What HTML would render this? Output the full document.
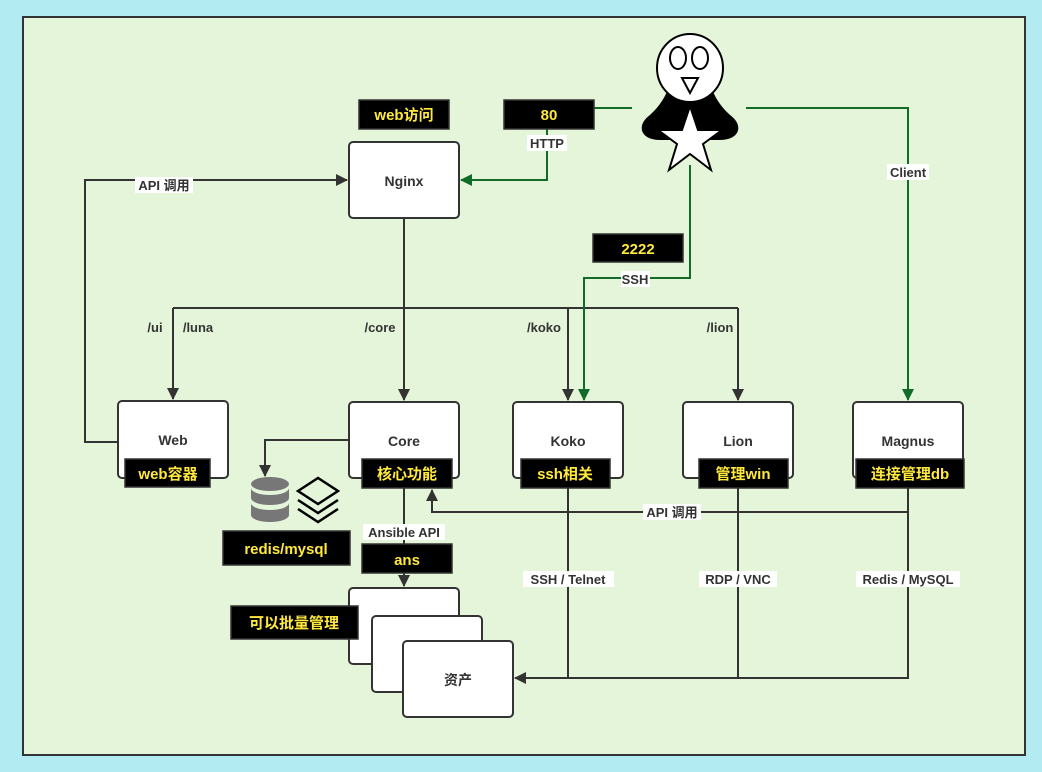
<!DOCTYPE html>
<html><head><meta charset="utf-8"><style>
html,body{margin:0;padding:0;background:#b2ebf2;}
svg{display:block;}
text{font-family:"Liberation Sans","Noto Sans CJK SC",sans-serif;}
.n{fill:#fff;stroke:#333;stroke-width:2;}
.nt{font-size:14px;font-weight:bold;fill:#333;text-anchor:middle;}
.bl{fill:#000;stroke:#333;stroke-width:1.5;}
.yt{font-size:15px;font-weight:bold;fill:#ffe93b;text-anchor:middle;}
.ln{stroke:#333;stroke-width:2;fill:none;}
.gl{stroke:#136b2a;stroke-width:2;fill:none;}
.lb{font-size:13px;font-weight:bold;fill:#333;text-anchor:middle;}
</style></head><body>
<svg width="1042" height="772" viewBox="0 0 1042 772">
<defs>
<marker id="a" markerWidth="12" markerHeight="12" refX="11" refY="6" orient="auto" markerUnits="userSpaceOnUse"><path d="M0,0 L12,6 L0,12 z" fill="#333"/></marker>
<marker id="g" markerWidth="12" markerHeight="12" refX="11" refY="6" orient="auto" markerUnits="userSpaceOnUse"><path d="M0,0 L12,6 L0,12 z" fill="#136b2a"/></marker>
</defs>
<rect x="0" y="0" width="1042" height="772" fill="#b2ebf2"/>
<rect x="23" y="17" width="1002" height="738" fill="#e4f5da" stroke="#333" stroke-width="2"/>

<path class="ln" d="M404,218 V308"/>
<path class="ln" d="M173,308 H738"/>
<path class="ln" d="M173,308 V399" marker-end="url(#a)"/>
<path class="ln" d="M404,308 V400" marker-end="url(#a)"/>
<path class="ln" d="M568,308 V400" marker-end="url(#a)"/>
<path class="ln" d="M738,308 V400" marker-end="url(#a)"/>
<path class="ln" d="M118,442 H85 V180 H347" marker-end="url(#a)"/>
<path class="ln" d="M349,440 H265 V476" marker-end="url(#a)"/>
<path class="ln" d="M404,488 V586" marker-end="url(#a)"/>
<path class="ln" d="M908,488 V512 H432 V490" marker-end="url(#a)"/>
<path class="ln" d="M568,488 V678"/>
<path class="ln" d="M738,488 V678"/>
<path class="ln" d="M908,512 V678 H515" marker-end="url(#a)"/>

<path class="gl" d="M594,108 H632"/>
<path class="gl" d="M746,108 H908 V400" marker-end="url(#g)"/>
<path class="gl" d="M547,129 V180 H461" marker-end="url(#g)"/>
<path class="gl" d="M690,165 V278 H584 V400" marker-end="url(#g)"/>

<rect x="135" y="177" width="58" height="16" fill="#fff"/><text class="lb" x="164" y="190">API 调用</text>
<rect x="527" y="135" width="40" height="16" fill="#fff"/><text class="lb" x="547" y="148">HTTP</text>
<rect x="887" y="164" width="42" height="16" fill="#fff"/><text class="lb" x="908" y="177">Client</text>
<rect x="621" y="271" width="29" height="16" fill="#fff"/><text class="lb" x="635" y="284">SSH</text>
<text class="lb" x="155" y="332">/ui</text>
<text class="lb" x="198" y="332">/luna</text>
<text class="lb" x="380" y="332">/core</text>
<text class="lb" x="544" y="332">/koko</text>
<text class="lb" x="720" y="332">/lion</text>
<rect x="643" y="504" width="58" height="16" fill="#fff"/><text class="lb" x="672" y="517">API 调用</text>
<rect x="363" y="524" width="82" height="16" fill="#fff"/><text class="lb" x="404" y="537">Ansible API</text>
<rect x="523" y="571" width="91" height="16" fill="#fff"/><text class="lb" x="568" y="584">SSH / Telnet</text>
<rect x="699" y="571" width="78" height="16" fill="#fff"/><text class="lb" x="738" y="584">RDP / VNC</text>
<rect x="856" y="571" width="104" height="16" fill="#fff"/><text class="lb" x="908" y="584">Redis / MySQL</text>

<rect class="n" x="349" y="142" width="110" height="76" rx="4"/><text class="nt" x="404" y="186">Nginx</text>
<rect class="n" x="118" y="401" width="110" height="77" rx="4"/><text class="nt" x="173" y="445">Web</text>
<rect class="n" x="349" y="402" width="110" height="76" rx="4"/><text class="nt" x="404" y="446">Core</text>
<rect class="n" x="513" y="402" width="110" height="76" rx="4"/><text class="nt" x="568" y="446">Koko</text>
<rect class="n" x="683" y="402" width="110" height="76" rx="4"/><text class="nt" x="738" y="446">Lion</text>
<rect class="n" x="853" y="402" width="110" height="76" rx="4"/><text class="nt" x="908" y="446">Magnus</text>
<rect class="n" x="349" y="588" width="110" height="76" rx="4"/>
<rect class="n" x="372" y="616" width="110" height="76" rx="4"/>
<rect class="n" x="403" y="641" width="110" height="76" rx="4"/><text class="nt" x="458" y="685">资产</text>

<rect class="bl" x="359" y="100" width="90" height="29"/><text class="yt" x="404" y="120">web访问</text>
<rect class="bl" x="504" y="100" width="90" height="29"/><text class="yt" x="549" y="120">80</text>
<rect class="bl" x="593" y="234" width="90" height="28"/><text class="yt" x="638" y="254">2222</text>
<rect class="bl" x="125" y="459" width="85" height="28"/><text class="yt" x="168" y="479">web容器</text>
<rect class="bl" x="362" y="459" width="90" height="29"/><text class="yt" x="407" y="479">核心功能</text>
<rect class="bl" x="521" y="459" width="89" height="29"/><text class="yt" x="565" y="479">ssh相关</text>
<rect class="bl" x="699" y="459" width="89" height="29"/><text class="yt" x="743" y="479">管理win</text>
<rect class="bl" x="856" y="459" width="108" height="29"/><text class="yt" x="910" y="479">连接管理db</text>
<rect class="bl" x="223" y="531" width="127" height="34"/><text class="yt" x="286" y="554">redis/mysql</text>
<rect class="bl" x="362" y="544" width="90" height="29"/><text class="yt" x="407" y="565">ans</text>
<rect class="bl" x="231" y="606" width="127" height="33"/><text class="yt" x="294" y="628">可以批量管理</text>

<g fill="#777">
<ellipse cx="270" cy="484" rx="19" ry="7"/>
<path d="M251,488 v10 a19,7 0 0 0 38,0 v-10 a19,7 0 0 1 -38,0z"/>
<path d="M251,503 v12 a19,7 0 0 0 38,0 v-12 a19,7 0 0 1 -38,0z"/>
</g>
<g fill="none" stroke="#000" stroke-width="2.5">
<path d="M298,491 L318,478 L338,491 L318,504 z"/>
<path d="M298,500 L318,513 L338,500"/>
<path d="M298,509 L318,522 L338,509"/>
</g>

<path d="M650,115 C636,125 640,140 660,140 L720,140 C740,140 744,125 730,115 C718,104 712,92 710,82 L670,82 C668,92 662,104 650,115 z" fill="#000"/>
<ellipse cx="690" cy="68" rx="33" ry="34" fill="#fff" stroke="#000" stroke-width="2"/>
<ellipse cx="678" cy="58" rx="8" ry="11" fill="#fff" stroke="#000" stroke-width="2"/>
<ellipse cx="700" cy="58" rx="8" ry="11" fill="#fff" stroke="#000" stroke-width="2"/>
<path d="M682,78 L698,78 L690,93 z" fill="#fff" stroke="#000" stroke-width="2"/>
<path d="M690,106 L698,130 L722,130 L703,144 L711,170 L690,154 L669,170 L677,144 L658,130 L682,130 z" fill="#fff" stroke="#000" stroke-width="2"/>
</svg>
</body></html>
